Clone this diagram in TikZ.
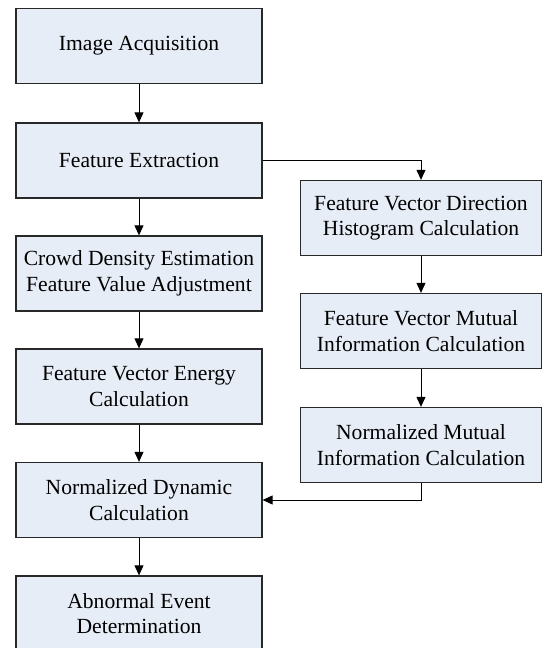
\documentclass[tikz,border=0pt]{standalone}
\usepackage{fontspec}
\setmainfont{Liberation Serif}
\usetikzlibrary{arrows.meta}
\definecolor{boxfill}{RGB}{231,237,247}
\definecolor{boxline}{RGB}{40,40,40}

\begin{document}
\begin{tikzpicture}[x=1pt,y=-1pt]
  \tikzset{stepbox/.style={draw=boxline,fill=boxfill,line width=1.3pt,align=center,
      inner sep=0pt,font=\fontsize{21.6}{25.5}\selectfont}}
  \tikzset{leftbox/.style={stepbox,minimum width=246pt,minimum height=75pt}}
  \tikzset{rightbox/.style={stepbox,minimum width=241pt,minimum height=75pt}}
  \tikzset{flow/.style={-{Triangle[length=10pt,width=9pt]},line width=0.9pt}}

  \useasboundingbox (0,0) rectangle (544,648);

  % left column
  \node[leftbox] (acq) at (139,46) {Image Acquisition};
  \node[leftbox] (fe) at (139,160.5) {Feature Extraction};
  \node[leftbox] (cde) at (139,273.5) {Crowd Density Estimation\\Feature Value Adjustment};
  \node[leftbox] (fve) at (139,386.5) {Feature Vector Energy\\Calculation};
  \node[leftbox] (nd) at (139,500) {Normalized Dynamic\\Calculation};
  \node[leftbox] (aed) at (139,613.5) {Abnormal Event\\Determination};

  % right column
  \node[rightbox] (fvd) at (421,218) {Feature Vector Direction\\Histogram Calculation};
  \node[rightbox] (fvmi) at (421,331) {Feature Vector Mutual\\Information Calculation};
  \node[rightbox] (nmi) at (421,445) {Normalized Mutual\\Information Calculation};

  \draw[flow] (acq) -- (fe);
  \draw[flow] (fe) -- (cde);
  \draw[flow] (cde) -- (fve);
  \draw[flow] (fve) -- (nd);
  \draw[flow] (nd) -- (aed);
  \draw[flow] (fe.east) -| (fvd.north);
  \draw[flow] (fvd) -- (fvmi);
  \draw[flow] (fvmi) -- (nmi);
  \draw[flow] (nmi.south) |- (nd.east);
\end{tikzpicture}
\end{document}
